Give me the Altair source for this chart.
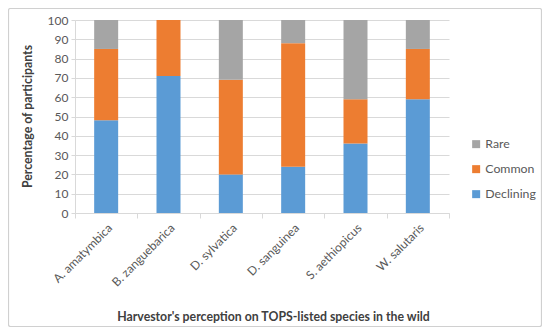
import altair as alt
import pandas as pd

species = ["A. amatymbica", "B. zanguebarica", "D. sylvatica", "D. sanguinea", "S. aethiopicus", "W. salutaris"]
declining = [48, 71, 20, 24, 36, 59]
common = [37, 29, 49, 64, 23, 26]
rare = [15, 0, 31, 12, 41, 15]

categories = ["Rare", "Common", "Declining"]
colors = ["#A5A5A5", "#ED7D31", "#5B9BD5"]
stack_rank = {"Declining": 0, "Common": 1, "Rare": 2}

rows = []
for i, s in enumerate(species):
    for cat, vals in (("Declining", declining), ("Common", common), ("Rare", rare)):
        rows.append({"species": s, "category": cat, "value": vals[i], "k": stack_rank[cat]})
df = pd.DataFrame(rows)

FONT = "Lato"
GRID = "#D9D9D9"
TXT = "#595959"

bars = alt.Chart(df).mark_bar(size=24).encode(
    x=alt.X("species:N", sort=species,
            scale=alt.Scale(paddingInner=0, paddingOuter=0),
            axis=alt.Axis(title="Harvestor's perception on TOPS-listed species in the wild",
                          labelAngle=-45, tickBand="extent", domainColor=GRID, tickColor=GRID,
                          tickSize=5, labelPadding=4, labelColor=TXT, labelFontSize=12,
                          labelFont=FONT, titleFont=FONT, titleFontSize=12.3, titleFontWeight="bold",
                          titleColor="#404040", titleX=198, titleY=103, titleBaseline="middle",
                          titleAlign="center", grid=False)),
    y=alt.Y("value:Q", stack="zero",
            scale=alt.Scale(domain=[0, 100], nice=False),
            axis=alt.Axis(title="Percentage of participants", values=list(range(0, 101, 10)),
                          domainColor=GRID, tickColor=GRID, tickSize=4, gridColor=GRID,
                          labelColor=TXT, labelFontSize=12, labelFont=FONT, labelPadding=3,
                          titleFont=FONT, titleFontSize=12.3, titleFontWeight="bold",
                          titleColor="#404040", titleX=-48, titleY=96, titleBaseline="middle",
                          titleAlign="center", titleAngle=-90)),
    color=alt.Color("category:N",
                    scale=alt.Scale(domain=categories, range=colors),
                    legend=alt.Legend(title=None, orient="none", legendX=395, legendY=118,
                                      symbolType="square", symbolSize=64, symbolStrokeWidth=0,
                                      rowPadding=12, labelFont=FONT, labelFontSize=12.3,
                                      labelColor=TXT, labelOffset=3)),
    order=alt.Order("k:Q", sort="ascending"),
)

border = alt.Chart(pd.DataFrame({"a": [0]})).mark_rect(
    fill="white", fillOpacity=0, stroke="#D0D0D0", strokeWidth=1.2, cornerRadius=2, clip=False
).encode(
    x=alt.value(-66.5), x2=alt.value(466.5), y=alt.value(-11.5), y2=alt.value(306.5)
)

chart = alt.layer(border, bars).properties(
    width=374, height=193,
    autosize=alt.AutoSizeParams(type="none"),
    padding={"left": 67, "top": 12, "right": 93, "bottom": 114},
    background="white",
).configure_view(stroke=None)

chart.save("out.html", embed_options={"renderer": "svg", "actions": False})
